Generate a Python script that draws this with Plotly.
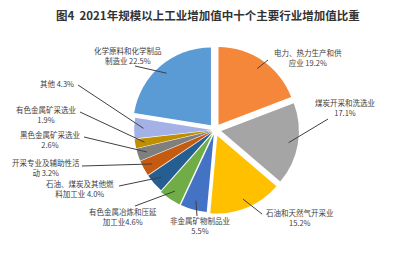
import math
import plotly.graph_objects as go

# ---- data ----
industries = ["电力、热力生产和供应业", "煤炭开采和洗选业", "石油和天然气开采业", "非金属矿物制品业",
              "有色金属冶炼和压延加工业", "石油、煤炭及其他燃料加工业", "开采专业及辅助性活动",
              "黑色金属矿采选业", "有色金属矿采选业", "其他", "化学原料和化学制品制造业"]
shares = [19.2, 17.1, 15.2, 5.5, 4.6, 4.0, 3.2, 2.6, 1.9, 4.3, 22.5]
label_texts = ["电力、热力生产和供<br>应业 19.2%", "煤炭开采和洗选业<br>17.1%", "石油和天然气开采业<br>15.2%",
               "非金属矿物制品业<br>5.5%", "有色金属冶炼和压延<br>加工业4.6%", "石油、煤炭及其他燃<br>料加工业 4.0%",
               "开采专业及辅助性活<br>动 3.2%", "黑色金属矿采选业<br>2.6%", "有色金属矿采选业<br>1.9%",
               "其他 4.3%", "化学原料和化学制品<br>制造业 22.5%"]
colors = ["#F4873A", "#A5A5A5", "#FFC000", "#4472C4", "#70AD47", "#255E91",
          "#C55A11", "#7F7F7F", "#BF8F00", "#A3B1E6", "#5B9BD5"]
pulls = [0.08, 0.08, 0.08, 0.06, 0.06, 0.04, 0.04, 0.04, 0.04, 0.04, 0.08]

# ---- layout constants (pixels) ----
W, H = 400, 257
cx, cy, half = 215, 130, 84
# label text centre and leader-line end for each slice
label_pos = [(308, 57), (345, 107), (300, 217), (200, 225), (123, 216), (80, 188),
             (46, 167), (50, 139), (46, 115), (57, 84), (128, 55)]
line_end = [(268, 60), (328, 119), (262, 214), (197, 216), (135, 206), (119, 186),
            (82, 166), (84, 137), (80, 112), (78, 85), (135, 66)]

fig = go.Figure(go.Pie(
    values=shares, labels=industries, sort=False, direction="clockwise", rotation=0,
    marker=dict(colors=colors, line=dict(width=0)), pull=pulls,
    textinfo="none", hoverinfo="label+percent", showlegend=False,
    domain=dict(x=[(cx - half) / W, (cx + half) / W],
                y=[(H - cy - half) / H, (H - cy + half) / H]),
))

r = half / (1 + max(pulls))
total = sum(shares)
cum = 0
shapes, annotations = [], []
for i, v in enumerate(shares):
    mid = (cum + v / 2) / total * 2 * math.pi
    cum += v
    rr = r * (0.88 + pulls[i])
    px = cx + rr * math.sin(mid)
    py = cy - rr * math.cos(mid)
    ex, ey = line_end[i]
    shapes.append(dict(type="line", xref="paper", yref="paper",
                       x0=px / W, y0=1 - py / H, x1=ex / W, y1=1 - ey / H,
                       line=dict(color="#404040", width=1)))
    tx, ty = label_pos[i]
    annotations.append(dict(text=label_texts[i], x=tx / W, y=1 - ty / H, xref="paper", yref="paper",
                            showarrow=False, xanchor="center", yanchor="middle",
                            font=dict(size=7.5, color="#404040", family="Noto Sans CJK SC")))

annotations.append(dict(text="<b>图4  2021年规模以上工业增加值中十个主要行业增加值比重</b>",
                        x=0.52, y=1 - 15 / H, xref="paper", yref="paper", showarrow=False,
                        xanchor="center", yanchor="middle",
                        font=dict(size=11.5, color="#333333", family="Noto Sans CJK SC")))

fig.update_layout(width=W, height=H, margin=dict(l=0, r=0, t=0, b=0),
                  paper_bgcolor="white", plot_bgcolor="white",
                  shapes=shapes, annotations=annotations)
fig.write_html("out.html")
